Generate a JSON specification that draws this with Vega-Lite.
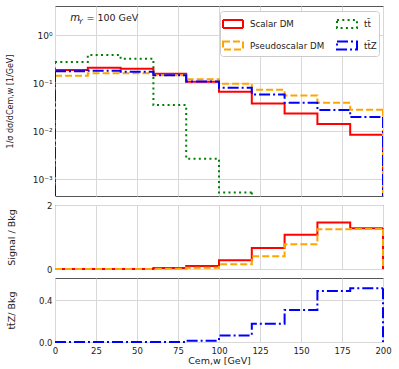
{
  "$schema": "https://vega.github.io/schema/vega-lite/v6.json",
  "padding": {"left": 5, "top": 5, "right": 0, "bottom": 2},
  "bounds": "flush",
  "spacing": 9,
  "config": {
    "font": "DejaVu Sans",
    "view": {"stroke": "#555555", "strokeWidth": 1},
    "axis": {"gridColor": "#d8d8d8", "gridWidth": 1, "domain": false, "ticks": false, "labelFlush": false, "labelOverlap": false, "labelFontSize": 8.5, "labelColor": "#222222", "titleFontSize": 9.5, "titleFontWeight": "normal", "titleColor": "#222222", "labelPadding": 3}
  },
  "datasets": {
    "top": [
      {"s": "Scalar DM", "x": 0, "y": 0.189}, {"s": "Scalar DM", "x": 20, "y": 0.211}, {"s": "Scalar DM", "x": 40, "y": 0.201}, {"s": "Scalar DM", "x": 60, "y": 0.158}, {"s": "Scalar DM", "x": 80, "y": 0.108}, {"s": "Scalar DM", "x": 100, "y": 0.0668}, {"s": "Scalar DM", "x": 120, "y": 0.0383}, {"s": "Scalar DM", "x": 140, "y": 0.0237}, {"s": "Scalar DM", "x": 160, "y": 0.0142}, {"s": "Scalar DM", "x": 180, "y": 0.0085}, {"s": "Scalar DM", "x": 200, "y": 0.0085},
      {"s": "Pseudoscalar DM", "x": 0, "y": 0.144}, {"s": "Pseudoscalar DM", "x": 20, "y": 0.162}, {"s": "Pseudoscalar DM", "x": 40, "y": 0.162}, {"s": "Pseudoscalar DM", "x": 60, "y": 0.147}, {"s": "Pseudoscalar DM", "x": 80, "y": 0.122}, {"s": "Pseudoscalar DM", "x": 100, "y": 0.098}, {"s": "Pseudoscalar DM", "x": 120, "y": 0.0736}, {"s": "Pseudoscalar DM", "x": 140, "y": 0.056}, {"s": "Pseudoscalar DM", "x": 160, "y": 0.0394}, {"s": "Pseudoscalar DM", "x": 180, "y": 0.0282}, {"s": "Pseudoscalar DM", "x": 200, "y": 0.0282},
      {"s": "tt̄", "x": 0, "y": 0.278}, {"s": "tt̄", "x": 20, "y": 0.389}, {"s": "tt̄", "x": 40, "y": 0.326}, {"s": "tt̄", "x": 60, "y": 0.0353}, {"s": "tt̄", "x": 80, "y": 0.0027}, {"s": "tt̄", "x": 100, "y": 0.00053}, {"s": "tt̄", "x": 120, "y": 0.00053},
      {"s": "tt̄Z", "x": 0, "y": 0.18}, {"s": "tt̄Z", "x": 20, "y": 0.183}, {"s": "tt̄Z", "x": 40, "y": 0.175}, {"s": "tt̄Z", "x": 60, "y": 0.147}, {"s": "tt̄Z", "x": 80, "y": 0.11}, {"s": "tt̄Z", "x": 100, "y": 0.081}, {"s": "tt̄Z", "x": 120, "y": 0.059}, {"s": "tt̄Z", "x": 140, "y": 0.0394}, {"s": "tt̄Z", "x": 160, "y": 0.0278}, {"s": "tt̄Z", "x": 180, "y": 0.0199}, {"s": "tt̄Z", "x": 200, "y": 0.0199}
    ],
    "mid": [
      {"s": "Scalar DM", "x": 0, "y": 0}, {"s": "Scalar DM", "x": 20, "y": 0}, {"s": "Scalar DM", "x": 40, "y": 0}, {"s": "Scalar DM", "x": 60, "y": 0.03}, {"s": "Scalar DM", "x": 80, "y": 0.095}, {"s": "Scalar DM", "x": 100, "y": 0.27}, {"s": "Scalar DM", "x": 120, "y": 0.66}, {"s": "Scalar DM", "x": 140, "y": 1.07}, {"s": "Scalar DM", "x": 160, "y": 1.45}, {"s": "Scalar DM", "x": 180, "y": 1.27}, {"s": "Scalar DM", "x": 200, "y": 1.27},
      {"s": "Pseudoscalar DM", "x": 0, "y": 0}, {"s": "Pseudoscalar DM", "x": 20, "y": 0}, {"s": "Pseudoscalar DM", "x": 40, "y": 0}, {"s": "Pseudoscalar DM", "x": 60, "y": 0.005}, {"s": "Pseudoscalar DM", "x": 80, "y": 0.04}, {"s": "Pseudoscalar DM", "x": 100, "y": 0.15}, {"s": "Pseudoscalar DM", "x": 120, "y": 0.4}, {"s": "Pseudoscalar DM", "x": 140, "y": 0.77}, {"s": "Pseudoscalar DM", "x": 160, "y": 1.24}, {"s": "Pseudoscalar DM", "x": 180, "y": 1.25}, {"s": "Pseudoscalar DM", "x": 200, "y": 1.25}
    ],
    "bot": [
      {"s": "tt̄Z", "x": 0, "y": 0}, {"s": "tt̄Z", "x": 20, "y": 0}, {"s": "tt̄Z", "x": 40, "y": 0}, {"s": "tt̄Z", "x": 60, "y": 0}, {"s": "tt̄Z", "x": 80, "y": 0.013}, {"s": "tt̄Z", "x": 100, "y": 0.061}, {"s": "tt̄Z", "x": 120, "y": 0.173}, {"s": "tt̄Z", "x": 140, "y": 0.304}, {"s": "tt̄Z", "x": 160, "y": 0.487}, {"s": "tt̄Z", "x": 180, "y": 0.512}, {"s": "tt̄Z", "x": 200, "y": 0.512}
    ]
  },
  "vconcat": [
    {
      "width": 328,
      "height": 190,
      "layer": [
        {
          "data": {"name": "top"},
          "mark": {"type": "line", "interpolate": "step-after", "strokeWidth": 2, "clip": true},
          "encoding": {
            "x": {"field": "x", "type": "quantitative", "scale": {"domain": [0, 200], "nice": false}, "axis": {"values": [0, 25, 50, 75, 100, 125, 150, 175, 200], "labels": false, "title": null}},
            "y": {"field": "y", "type": "quantitative", "scale": {"type": "log", "domain": [0.00045, 4.1], "nice": false}, "axis": {"values": [0.001, 0.01, 0.1, 1], "labelExpr": "datum.value >= 1 ? '10⁰' : datum.value >= 0.1 ? '10⁻¹' : datum.value >= 0.01 ? '10⁻²' : '10⁻³'", "labelFontSize": 9, "title": "1/σ dσ/dCem,w [1/GeV]", "titleFontSize": 8, "titlePadding": 18}},
            "color": {"field": "s", "type": "nominal", "scale": {"domain": ["Scalar DM", "Pseudoscalar DM", "tt̄", "tt̄Z"], "range": ["#ff0000", "#ffa500", "#008000", "#0000ff"]}, "legend": {"title": null, "orient": "top-right", "offset": 4.5, "columns": 2, "symbolType": "M-1,-0.4H1V0.4H-1Z", "symbolSize": 400, "symbolStrokeWidth": 2, "symbolFillColor": "white", "labelFontSize": 8.7, "labelColor": "#222222", "labelOffset": 6, "fillColor": "white", "strokeColor": "#cccccc", "cornerRadius": 3, "padding": 2, "columnPadding": 8, "rowPadding": 2.5}},
            "strokeDash": {"field": "s", "type": "nominal", "scale": {"domain": ["Scalar DM", "Pseudoscalar DM", "tt̄", "tt̄Z"], "range": [[1, 0], [7, 3], [2, 3.3], [11, 3, 2, 3]]}, "legend": {"title": null, "orient": "top-right", "offset": 4.5, "columns": 2, "symbolType": "M-1,-0.4H1V0.4H-1Z", "symbolSize": 400, "symbolStrokeWidth": 2, "symbolFillColor": "white", "labelFontSize": 8.7, "labelColor": "#222222", "labelOffset": 6, "fillColor": "white", "strokeColor": "#cccccc", "cornerRadius": 3, "padding": 2, "columnPadding": 8, "rowPadding": 2.5}}
          }
        },
        {
          "data": {"name": "top"},
          "transform": [{"filter": "datum.x == 0 || datum.x == 200 || (datum.s == 'tt̄' && datum.x == 120)"}],
          "mark": {"type": "rule", "strokeWidth": 2, "clip": true},
          "encoding": {
            "x": {"field": "x", "type": "quantitative"},
            "y": {"field": "y", "type": "quantitative"},
            "y2": {"datum": 0.0004},
            "color": {"field": "s", "type": "nominal", "legend": null},
            "strokeDash": {"field": "s", "type": "nominal", "legend": null}
          }
        },
        {
          "data": {"values": [{"t": "m"}]},
          "mark": {"type": "text", "align": "left", "baseline": "alphabetic", "fontSize": 10, "fontStyle": "italic", "color": "#222222"},
          "encoding": {"x": {"datum": 9.3}, "y": {"datum": 2.0}, "text": {"field": "t"}}
        },
        {
          "data": {"values": [{"t": "Y"}]},
          "mark": {"type": "text", "align": "left", "baseline": "alphabetic", "fontSize": 7, "fontStyle": "italic", "color": "#222222"},
          "encoding": {"x": {"datum": 14.4}, "y": {"datum": 1.72}, "text": {"field": "t"}}
        },
        {
          "data": {"values": [{"t": "= 100 GeV"}]},
          "mark": {"type": "text", "align": "left", "baseline": "alphabetic", "fontSize": 9.5, "color": "#222222"},
          "encoding": {"x": {"datum": 19.2}, "y": {"datum": 2.0}, "text": {"field": "t"}}
        }
      ]
    },
    {
      "width": 328,
      "height": 64,
      "data": {"name": "mid"},
      "layer": [
        {
          "mark": {"type": "line", "interpolate": "step-after", "strokeWidth": 2},
          "encoding": {
            "x": {"field": "x", "type": "quantitative", "scale": {"domain": [0, 200], "nice": false}, "axis": {"values": [0, 25, 50, 75, 100, 125, 150, 175, 200], "labels": false, "title": null}},
            "y": {"field": "y", "type": "quantitative", "scale": {"domain": [0, 2], "nice": false}, "axis": {"values": [0, 0.5, 1, 1.5, 2], "labelExpr": "datum.value % 1 == 0 ? format(datum.value, 'd') : ''", "title": "Signal / Bkg", "titlePadding": 30}},
            "color": {"field": "s", "type": "nominal", "legend": null},
            "strokeDash": {"field": "s", "type": "nominal", "legend": null}
          }
        },
        {
          "transform": [{"filter": "datum.x == 200"}],
          "mark": {"type": "rule", "strokeWidth": 2},
          "encoding": {
            "x": {"field": "x", "type": "quantitative"},
            "y": {"field": "y", "type": "quantitative"},
            "y2": {"datum": 0},
            "color": {"field": "s", "type": "nominal", "legend": null},
            "strokeDash": {"field": "s", "type": "nominal", "legend": null}
          }
        }
      ]
    },
    {
      "width": 328,
      "height": 64,
      "data": {"name": "bot"},
      "layer": [
        {
          "mark": {"type": "line", "interpolate": "step-after", "strokeWidth": 2},
          "encoding": {
            "x": {"field": "x", "type": "quantitative", "scale": {"domain": [0, 200], "nice": false}, "axis": {"values": [0, 25, 50, 75, 100, 125, 150, 175, 200], "labelPadding": 4, "title": "Cem,w [GeV]", "titlePadding": 1}},
            "y": {"field": "y", "type": "quantitative", "scale": {"domain": [0, 0.61], "nice": false}, "axis": {"values": [0, 0.2, 0.4], "labelExpr": "datum.value == 0.2 ? '' : format(datum.value, '.1f')", "title": "tt̄Z/ Bkg", "titlePadding": 21.5}},
            "color": {"field": "s", "type": "nominal", "legend": null},
            "strokeDash": {"field": "s", "type": "nominal", "legend": null}
          }
        },
        {
          "transform": [{"filter": "datum.x == 200"}],
          "mark": {"type": "rule", "strokeWidth": 2},
          "encoding": {
            "x": {"field": "x", "type": "quantitative"},
            "y": {"field": "y", "type": "quantitative"},
            "y2": {"datum": 0},
            "color": {"field": "s", "type": "nominal", "legend": null},
            "strokeDash": {"field": "s", "type": "nominal", "legend": null}
          }
        }
      ]
    }
  ]
}
